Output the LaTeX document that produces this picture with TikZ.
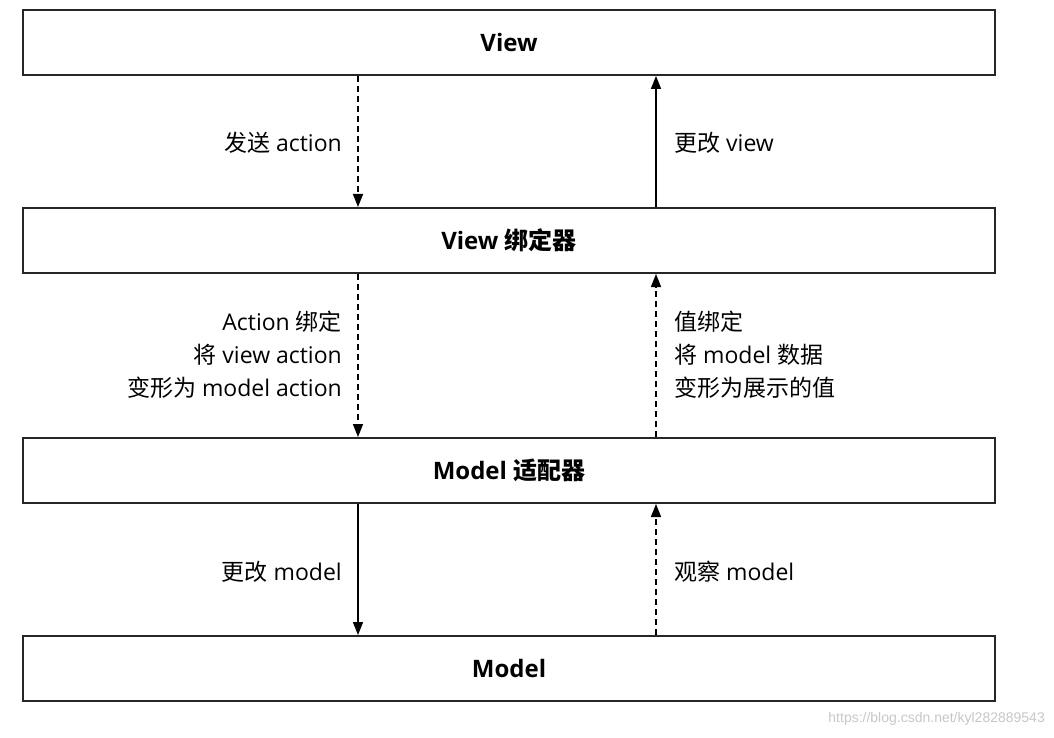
\documentclass[tikz,border=0pt]{standalone}
\usepackage{fontspec}
\setmainfont{Open Sans}
\newfontfamily\cjk{Noto Sans CJK SC}
\newfontfamily\wmfont{Liberation Sans}
\usetikzlibrary{arrows.meta}
\begin{document}
\begin{tikzpicture}[x=1pt,y=-1pt,
  layer/.style={draw=black!85,line width=2pt,minimum width=972pt,minimum height=65pt,inner sep=0pt,font=\fontsize{24}{28}\selectfont\bfseries},
  conn/.style={line width=1.6pt,-{Triangle[length=13pt,width=10pt]}},
  dsh/.style={dash pattern=on 6pt off 4pt},
  lbl/.style={font=\fontsize{23}{33}\selectfont,inner sep=0pt}]
\useasboundingbox (0,0) rectangle (1054,738);
\node[layer] (v) at (509,42.5) {View};
\node[layer] (vb) at (509,240.5) {View {\cjk 绑定器}};
\node[layer] (ma) at (509,470.5) {Model {\cjk 适配器}};
\node[layer] (m) at (509,668.5) {Model};
\coordinate (L) at (358,0);
\coordinate (R) at (656,0);
\draw[conn,dsh] (v.south -| L) -- (vb.north -| L);
\draw[conn] (vb.north -| R) -- (v.south -| R);
\draw[conn,dsh] (vb.south -| L) -- (ma.north -| L);
\draw[conn,dsh] (ma.north -| R) -- (vb.south -| R);
\draw[conn] (ma.south -| L) -- (m.north -| L);
\draw[conn,dsh] (m.north -| R) -- (ma.south -| R);
\node[lbl,anchor=east] (l1) at (342,143) {{\cjk 发送} action};
\node[lbl,anchor=west] (r1) at (674,143) {{\cjk 更改} view};
\node[lbl,anchor=east,align=right] (l2) at (342,355) {Action {\cjk 绑定}\\{\cjk 将} view action\\{\cjk 变形为} model action};
\node[lbl,anchor=west,align=left] (r2) at (674,355) {{\cjk 值绑定}\\{\cjk 将} model {\cjk 数据}\\{\cjk 变形为展示的值}};
\node[lbl,anchor=east] (l3) at (342,572) {{\cjk 更改} model};
\node[lbl,anchor=west] (r3) at (674,572) {{\cjk 观察} model};
\node[anchor=east,inner sep=0pt,text=black!22,font=\wmfont\fontsize{14}{16}\selectfont] (wm) at (1045,719) {https://blog.csdn.net/kyl282889543};
\end{tikzpicture}
\end{document}
